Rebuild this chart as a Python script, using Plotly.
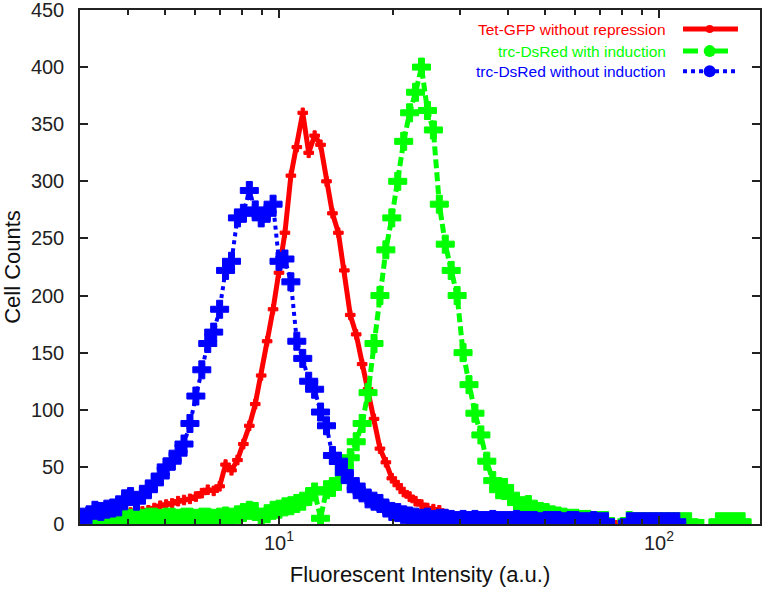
import plotly.graph_objects as go

# FACS channels (64 channels per decade): intensity = 10**(channel/64)
channels = list(range(31, 144))

# Cell counts per channel (None = empty bin)
tet_gfp_no_repression = [
    None, None, None, None, 4, 5, 7, 9, 10, 9,
    11, 12, 14, 16, 17, 18, 20, 21, 22, 24,
    27, 30, 29, 33, 52, 47, 56, 70, 86, 105,
    130, 160, 188, 220, 255, 305, 330, 360, 325, 340,
    332, 300, 272, 255, 222, 183, 166, 140, 118, 92,
    66, 54, 40, 34, 28, 24, 20, 17, 14, 13,
    12, 8, 6, 5, 4, 4, 3, 3, 3, 2,
    3, 2, 2, 2, 2, 1, 2, 1, 1, 2,
    1, 1, 1, 1, 1, 1, 1, 1, 1, None,
    None, None, 1, 1, 1, None, None, None, None, None,
    None, None, None, None, None, None, None, None, None, None,
    None, None, None,
]

trc_dsred_induction = [
    1, 2, 2, 3, 3, 4, 4, 5, 5, 6,
    5, 6, 6, 5, 6, 6, 5, 6, 6, 5,
    6, 6, 5, 6, 7, 6, 8, 10, 12, 11,
    6, 9, 12, 13, 15, 16, 18, 20, 24, 28,
    5, 30, 32, 38, 50, 58, 72, 88, 115, 158,
    200, 240, 268, 300, 335, 360, 378, 400, 362, 345,
    280, 245, 222, 200, 150, 122, 97, 78, 55, 38,
    30, 32, 24, 20, 16, 17, 13, 11, 10, 8,
    7, 6, 5, 5, 4, 4, 3, 3, 3, None,
    None, None, 3, 2, 2, 2, 2, 2, 2, 2,
    2, 2, 2, None, None, None, None, 2, 2, 2,
    2, 2, None,
]

trc_dsred_no_induction = [
    6, 8, 12, 11, 13, 14, 15, 22, 24, 20,
    26, 30, 36, 42, 50, 55, 62, 70, 88, 112,
    135, 158, 168, 188, 222, 230, 268, 272, 292, 275,
    268, 272, 280, 230, 232, 212, 160, 145, 125, 118,
    98, 86, 60, 55, 45, 38, 30, 28, 22, 20,
    18, 14, 11, 10, 8, 7, 6, 5, 6, 4,
    5, 5, 4, 3, 4, 3, 4, 3, 3, 4,
    3, 3, 3, 4, 3, 3, 3, 2, 3, 3,
    3, 2, 3, 3, 2, 2, 3, 2, 2, None,
    None, None, 2, 2, 2, 2, 2, 2, 2, 2,
    2, None, None, None, None, None, None, None, None, None,
    None, None, None,
]

series_names = [
    "Tet-GFP without repression",
    "trc-DsRed with induction",
    "trc-DsRed without induction",
]
series_colors = ["#ff0000", "#00ff00", "#0000ff"]

x_tick_vals = [10, 100]
x_tick_text = ["10<sup>1</sup>", "10<sup>2</sup>"]
x_minor_vals = [3, 4, 5, 6, 7, 8, 9, 20, 30, 40, 50, 60, 70, 80, 90, 200]
y_tick_vals = [0, 50, 100, 150, 200, 250, 300, 350, 400, 450]

intensity = [10 ** (c / 64) for c in channels]

styles = [
    dict(dash="solid", width=5, msize=8),
    dict(dash="9px,4px", width=5, msize=15),
    dict(dash="dot", width=4, msize=15),
]

fig = go.Figure()
for name, vals, color, st in zip(
    series_names,
    [tet_gfp_no_repression, trc_dsred_induction, trc_dsred_no_induction],
    series_colors,
    styles,
):
    fig.add_trace(
        go.Scatter(
            x=intensity,
            y=vals,
            name=name,
            mode="lines+markers",
            connectgaps=True,
            line=dict(color=color, width=st["width"], dash=st["dash"]),
            marker=dict(symbol="cross", size=st["msize"], color=color,
                        line=dict(width=1, color=color)),
            showlegend=False,
            hoverinfo="skip",
        )
    )

FONT = "Liberation Sans, Arial, sans-serif"
axis_common = dict(
    showline=True,
    linecolor="#222222",
    linewidth=1.5,
    mirror="allticks",
    ticks="inside",
    tickcolor="#222222",
    tickwidth=1.5,
    showgrid=False,
    zeroline=False,
    automargin=False,
    ticklabeloverflow="allow",
    tickfont=dict(family=FONT, size=20, color="#222222"),
)

fig.update_xaxes(
    type="log",
    range=[0.4763, 2.2658],
    tickmode="array",
    tickvals=x_tick_vals,
    ticktext=x_tick_text,
    ticklen=8,
    minor=dict(tickmode="array", tickvals=x_minor_vals, ticks="inside",
               ticklen=5, tickcolor="#222222", tickwidth=1.5, showgrid=False),
    title=dict(text="Fluorescent Intensity (a.u.)",
               font=dict(family=FONT, size=22, color="#111111"), standoff=14),
    **axis_common,
)
fig.update_yaxes(
    range=[0, 450],
    tickmode="array",
    tickvals=y_tick_vals,
    ticklen=8,
    ticklabelstandoff=10,
    title=dict(text="Cell Counts",
               font=dict(family=FONT, size=22, color="#111111"), standoff=8),
    **axis_common,
)

# Legend drawn gnuplot-style: right-aligned coloured label, key sample to its right
legend_rows_y = [0.963, 0.920, 0.881]
legend_dash = ["solid", "dash", "dot"]
shapes = []
annotations = []
for name, color, st, ly, ld in zip(series_names, series_colors, styles,
                                   legend_rows_y, legend_dash):
    annotations.append(dict(
        x=0.8647, y=ly, xref="paper", yref="paper", xanchor="right",
        yanchor="middle", text=name, showarrow=False,
        font=dict(family=FONT, size=15.5, color=color),
    ))
    shapes.append(dict(
        type="line", xref="paper", yref="paper", x0=0.8868, x1=0.9676,
        y0=ly, y1=ly, line=dict(color=color, width=st["width"], dash=ld),
    ))
    r = min(st["msize"], 12) / 2
    shapes.append(dict(
        type="circle", xref="paper", yref="paper",
        xsizemode="pixel", ysizemode="pixel", xanchor=0.926, yanchor=ly,
        x0=-r, x1=r, y0=-r, y1=r, fillcolor=color, line=dict(width=0),
    ))

fig.update_layout(
    width=763,
    height=589,
    margin=dict(l=80, r=3, t=10, b=65),
    paper_bgcolor="white",
    plot_bgcolor="white",
    shapes=shapes,
    annotations=annotations,
    showlegend=False,
    hovermode=False,
)

fig.write_html(
    "out.html",
    config={"displayModeBar": False},
    post_script="document.body.style.margin='0';document.body.style.padding='0';",
)
